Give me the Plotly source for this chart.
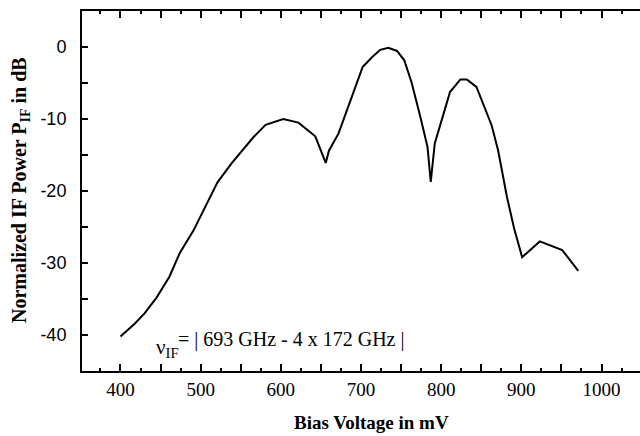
import plotly.graph_objects as go

bias_mv = [400, 418, 430, 445, 461, 474, 491, 507, 521, 539, 566, 581, 603, 622,
           643, 656, 660, 672, 685, 702, 714, 724, 734, 745, 754, 763, 774, 783,
           787, 792, 800, 811, 824, 832, 844, 855, 863, 871, 882, 891, 901, 923,
           951, 971]
power_db = [-40.2, -38.4, -37.0, -34.8, -31.9, -28.6, -25.5, -21.8, -18.8, -16.1,
            -12.5, -10.8, -10.0, -10.5, -12.4, -16.1, -14.4, -12.0, -8.1, -2.8,
            -1.4, -0.4, -0.1, -0.55, -1.85, -4.9, -9.7, -13.9, -18.75, -13.4,
            -10.4, -6.25, -4.5, -4.5, -5.55, -8.8, -10.9, -14.35, -20.8, -25.2,
            -29.2, -27.0, -28.2, -31.1]

x_tick_vals = [350, 400, 450, 500, 550, 600, 650, 700, 750, 800, 850, 900, 950, 1000, 1050]
x_tick_text = ["", "400", "", "500", "", "600", "", "700", "", "800", "", "900", "", "1000", ""]
y_tick_vals = [0, -5, -10, -15, -20, -25, -30, -35, -40]
y_tick_text = ["0", "", "-10", "", "-20", "", "-30", "", "-40"]

x_title = "Bias Voltage in mV"
y_title = "Normalized IF Power P<sub>IF</sub> in dB"
note_symbol = "ν<sub>IF</sub>"
note_text = "= | 693 GHz - 4 x 172 GHz |"

serif = "Liberation Serif, Times New Roman, serif"
sans = "Liberation Sans, Arial, sans-serif"

FIG_W, FIG_H = 652, 436
L, T, W, H = 82, 11, 568, 360
X0 = 352
X1 = X0 + W * (696 / 558)


def px(xp):
    return (xp - L) / W


def py(yp):
    return (T + H - yp) / H


fig = go.Figure()
fig.add_trace(go.Scatter(x=bias_mv, y=power_db, mode="lines",
                         line=dict(color="black", width=2), showlegend=False))

fig.update_layout(
    width=FIG_W, height=FIG_H,
    margin=dict(l=L, r=FIG_W - L - W, t=T, b=FIG_H - T - H, autoexpand=False),
    paper_bgcolor="white", plot_bgcolor="white",
    xaxis=dict(range=[X0, X1], tickmode="array", tickvals=x_tick_vals,
               ticktext=x_tick_text, ticks="inside", ticklen=7, tickwidth=1.5,
               tickcolor="black", showline=True, linecolor="black", linewidth=2,
               mirror="allticks", showgrid=False, zeroline=False, automargin=False,
               tickfont=dict(family=serif, size=19, color="black"),
               minor=dict(dtick=25, tick0=350, ticks="inside", ticklen=3,
                          tickwidth=1.5, tickcolor="black", showgrid=False)),
    yaxis=dict(range=[-45, 5], tickmode="array", tickvals=y_tick_vals,
               ticktext=y_tick_text, ticks="inside", ticklen=6, tickwidth=1.5,
               tickcolor="black", showline=True, linecolor="black", linewidth=2,
               mirror=False, showgrid=False, zeroline=False, automargin=False,
               ticklabelstandoff=10,
               tickfont=dict(family=sans, size=18, color="black")),
)

fig.add_annotation(text="<b>" + x_title + "</b>", xref="paper", yref="paper",
                   x=px(371), y=py(422), showarrow=False,
                   xanchor="center", yanchor="middle",
                   font=dict(family=serif, size=19, color="black"))
fig.add_annotation(text="<b>" + y_title + "</b>", xref="paper", yref="paper",
                   x=px(20), y=py(190), showarrow=False,
                   textangle=-90, xanchor="center", yanchor="middle",
                   font=dict(family=serif, size=20, color="black"))
fig.add_annotation(text=note_symbol, xref="paper", yref="paper",
                   x=px(154), y=py(348), showarrow=False,
                   xanchor="left", yanchor="middle",
                   font=dict(family=serif, size=21, color="black"))
fig.add_annotation(text=note_text, xref="paper", yref="paper",
                   x=px(176), y=py(339), showarrow=False,
                   xanchor="left", yanchor="middle",
                   font=dict(family=serif, size=20, color="black"))

fig.write_html("out.html", config={"displayModeBar": False},
               post_script="document.body.style.margin='0';document.body.style.overflow='hidden';")
